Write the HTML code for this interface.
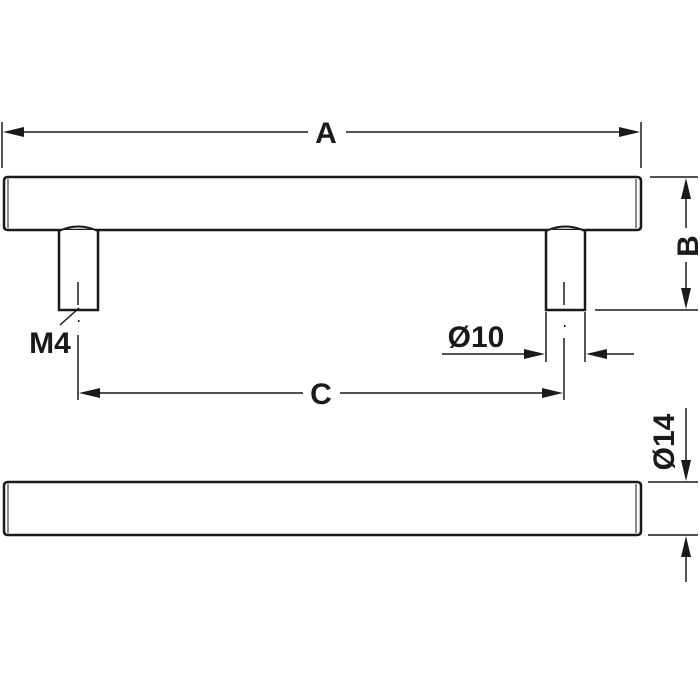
<!DOCTYPE html>
<html><head><style>body{margin:0;background:#fff}svg{display:block}text{font-family:"Liberation Sans",sans-serif;font-weight:bold;fill:#1a1a1a}</style></head>
<body>
<svg width="700" height="700" viewBox="0 0 700 700" xmlns="http://www.w3.org/2000/svg">
<g stroke="#1a1a1a" fill="none">
<path d="M8 177 H637 Q641 177 641 181 V226 Q641 230 637 230 H8 Q4 230 4 226 V181 Q4 177 8 177 Z" stroke-width="2.5"/>
<line x1="8" y1="179" x2="8" y2="228" stroke-width="1"/>
<line x1="636" y1="179" x2="636" y2="228" stroke-width="1"/>
<path d="M59 230 V310 H98 V230" stroke-width="2.5" fill="#fff"/>
<path d="M59 231 Q78 222 98 231" stroke-width="2"/>
<path d="M546 230 V310 H585 V230" stroke-width="2.5" fill="#fff"/>
<path d="M546 231 Q565 222 585 231" stroke-width="2"/>
<path d="M8 482 H637 Q641 482 641 486 V531 Q641 535 637 535 H8 Q4 535 4 531 V486 Q4 482 8 482 Z" stroke-width="2.5"/>
<line x1="8" y1="484" x2="8" y2="533" stroke-width="1"/>
<line x1="636" y1="484" x2="636" y2="533" stroke-width="1"/>
<g stroke-width="1.5">
<line x1="2" y1="122" x2="2" y2="168"/><line x1="641" y1="122" x2="641" y2="168"/>
<line x1="20" y1="132" x2="308" y2="132"/><line x1="346" y1="132" x2="625" y2="132"/>
<line x1="650" y1="177" x2="698" y2="177"/><line x1="595" y1="310" x2="698" y2="310"/>
<line x1="686" y1="195" x2="686" y2="228"/><line x1="686" y1="262" x2="686" y2="292"/>
<line x1="78" y1="282" x2="78" y2="305"/><line x1="78" y1="335" x2="78" y2="400"/>
<line x1="564" y1="282" x2="564" y2="305"/><line x1="564" y1="338" x2="564" y2="400"/>
<line x1="60" y1="325" x2="79" y2="308"/>
<line x1="546" y1="312" x2="546" y2="362"/><line x1="585" y1="312" x2="585" y2="362"/>
<line x1="442" y1="354" x2="530" y2="354"/><line x1="600" y1="354" x2="634" y2="354"/>
<line x1="95" y1="393" x2="303" y2="393"/><line x1="340" y1="393" x2="548" y2="393"/>
<line x1="648" y1="482" x2="698" y2="482"/><line x1="648" y1="535" x2="698" y2="535"/>
<line x1="686" y1="408" x2="686" y2="465"/><line x1="686" y1="552" x2="686" y2="582"/>
</g>
</g>
<g fill="#1a1a1a">
<polygon points="3,132 24,127 24,137"/><polygon points="640,132 619,127 619,137"/>
<polygon points="686,178 681,199 691,199"/><polygon points="686,309 681,288 691,288"/>
<polygon points="545,354 524,349 524,359"/><polygon points="586,354 607,349 607,359"/>
<polygon points="79,393 100,388 100,398"/><polygon points="563,393 542,388 542,398"/>
<polygon points="686,481 681,460 691,460"/><polygon points="686,536 681,557 691,557"/>
<rect x="78" y="320" width="1.5" height="2"/><rect x="564" y="325" width="1.5" height="2"/>
</g>
<text x="326" y="143" font-size="30" text-anchor="middle">A</text>
<text x="321" y="404" font-size="30" text-anchor="middle">C</text>
<text x="50" y="353" font-size="30" text-anchor="middle">M4</text>
<text x="476" y="347" font-size="30" text-anchor="middle">Ø10</text>
<text transform="translate(698,246) rotate(-90)" font-size="30" text-anchor="middle">B</text>
<text transform="translate(674,442) rotate(-90)" font-size="30" text-anchor="middle">Ø14</text>
</svg>
</body></html>
